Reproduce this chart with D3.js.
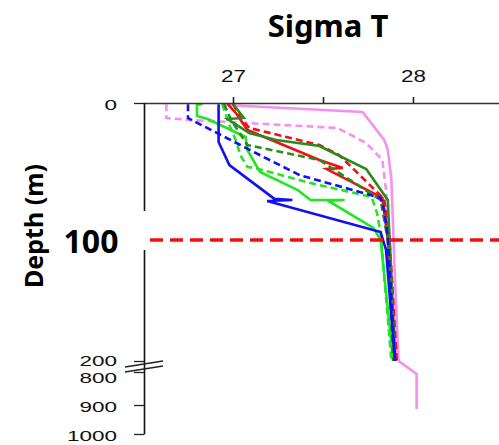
<!DOCTYPE html>
<html>
<head>
<meta charset="utf-8">
<script src="https://cdn.jsdelivr.net/npm/d3@7"></script>
<style>
  body { margin: 0; background: #fff; }
  svg { display: block; }
</style>
</head>
<body>
<svg id="chart" width="499" height="445"></svg>
<script>
// Sigma-T profiles: each point is [sigma-t, depth in m]
const stationA_solid  = [[26.96,1.5],[27.72,6.6],[27.84,27],[27.86,34],[27.88,56],[27.90,133],[27.92,200],[28.02,806],[28.02,914]];
const stationA_dashed = [[26.63,1],[26.63,11],[26.76,12.4],[27.58,18.2],[27.74,29.2],[27.83,41.6],[27.85,63.5],[27.87,100],[27.91,200]];
const stationB_solid  = [[26.83,0.7],[26.80,1.5],[26.80,9.5],[26.86,11.7],[27.07,24.8],[27.08,34.3],[27.15,50.4],[27.36,63.5],[27.43,70.8],[27.62,70.8],[27.53,71.5],[27.78,91.2],[27.82,100],[27.89,200]];
const stationB_dashed = [[26.94,0.7],[26.98,16.1],[27.02,28.5],[27.04,38],[27.08,46.7],[27.12,47.4],[27.43,58.4],[27.77,68.6],[27.80,80.3],[27.82,94.9],[27.88,200]];
const stationC_solid  = [[26.97,0.7],[27.02,8],[27.08,19.7],[27.28,30.7],[27.48,41.6],[27.61,47.4],[27.52,48.2],[27.83,69.3],[27.86,100],[27.90,200]];
const stationC_dashed = [[27.00,0.7],[27.04,10.2],[27.09,18.2],[27.48,30.7],[27.59,38],[27.84,70.1],[27.87,100],[27.91,200]];
const stationD_solid  = [[27.00,0.7],[27.06,10.9],[26.97,11.7],[27.09,21.9],[27.24,27],[27.48,31.4],[27.74,48.2],[27.86,70.8],[27.87,100],[27.90,200]];
const stationD_dashed = [[26.95,0.7],[26.99,12.4],[27.08,30.7],[27.48,41.6],[27.82,70.8],[27.86,100],[27.89,200]];
const stationE_solid  = [[26.92,1],[26.92,28.5],[26.98,45.3],[27.23,70],[27.33,70.8],[27.19,71.5],[27.82,94.2],[27.85,108],[27.90,200]];
const stationE_dashed = [[26.75,1],[26.75,11],[27.17,39.4],[27.37,52.6],[27.82,69.3],[27.84,78],[27.86,97.8],[27.90,200]];

const sigmaTicks = [27, 27.5, 28];
const sigmaLabels = ["27", "", "28"];
const depthTicks = [0, 200, 800, 900, 1000];
const depthLabels = ["0", "200", "800", "900", "1000"];
const referenceDepth = 100;

// drawing order and appearance
const profiles = [
  { data: stationA_solid,  color: "#f490f2", dash: null },
  { data: stationA_dashed, color: "#f490f2", dash: "7,4" },
  { data: stationB_dashed, color: "#22e622", dash: "7,4" },
  { data: stationB_solid,  color: "#22e622", dash: null },
  { data: stationC_dashed, color: "#ee1111", dash: "7,4" },
  { data: stationC_solid,  color: "#ee1111", dash: null },
  { data: stationD_dashed, color: "#2a8a1e", dash: "7,4" },
  { data: stationD_solid,  color: "#2a8a1e", dash: null },
  { data: stationE_dashed, color: "#1010f0", dash: "7,4" },
  { data: stationE_solid,  color: "#1010f0", dash: null }
];

const svg = d3.select("#chart");

const x = d3.scaleLinear().domain([26.5, 28.5]).range([143, 503]);
// broken depth axis: 0-200 m stretched, 800-1000 m compressed
const y = d3.scaleLinear()
  .domain([0, 100, 200, 800, 900, 1000])
  .range([103, 240, 361, 372, 405, 434]);

// title
svg.append("text")
  .attr("x", 328).attr("y", 37)
  .attr("text-anchor", "middle")
  .style("font-family", "'Noto Sans', sans-serif")
  .style("font-weight", "bold")
  .style("font-size", "31px")
  .text("Sigma T");

// y axis title
svg.append("text")
  .attr("transform", "translate(43,226) rotate(-90)")
  .attr("text-anchor", "middle")
  .style("font-family", "'Noto Sans', sans-serif")
  .style("font-weight", "bold")
  .style("font-size", "25px")
  .text("Depth (m)");

// profiles
const line = d3.line().x(d => x(d[0])).y(d => y(d[1]));
svg.append("g").selectAll("path")
  .data(profiles)
  .join("path")
  .attr("d", d => line(d.data))
  .attr("fill", "none")
  .attr("stroke", d => d.color)
  .attr("stroke-width", 2.6)
  .attr("stroke-linejoin", "miter")
  .attr("stroke-dasharray", d => d.dash);

// top axis
const xAxis = d3.axisTop(x)
  .tickValues(sigmaTicks)
  .tickSizeInner(6).tickSizeOuter(0)
  .tickFormat((d, i) => sigmaLabels[i]);
const gx = svg.append("g").attr("transform", `translate(0,${y(0)})`).call(xAxis);
gx.select(".domain").attr("stroke", "#333").attr("stroke-width", 1.6);
gx.selectAll(".tick line").attr("stroke", "#222").attr("stroke-width", 1.6);
gx.selectAll(".tick text")
  .attr("y", -21).attr("dy", 0)
  .attr("transform", "scale(1.4,1)")
  .style("font-family", "'Liberation Sans', Arial, sans-serif")
  .style("font-size", "16px")
  .attr("fill", "#111");

// left axis
const yAxis = d3.axisLeft(y)
  .tickValues(depthTicks)
  .tickSizeInner(10).tickSizeOuter(0)
  .tickFormat((d, i) => depthLabels[i]);
const gy = svg.append("g").attr("transform", "translate(144,0)").call(yAxis);
gy.select(".domain").attr("stroke", "#111").attr("stroke-width", 1.6);
gy.selectAll(".tick line").attr("stroke", "#222").attr("stroke-width", 1.3);
gy.selectAll(".tick text")
  .attr("x", -27 / 1.5)
  .attr("dy", d => d === 800 ? 10 : (d === 200 ? 4 : 6))
  .attr("transform", "scale(1.5,1)")
  .style("font-family", "'Liberation Sans', Arial, sans-serif")
  .style("font-size", "15px")
  .attr("fill", "#111");

// axis break marks
const breakY = (y(200) + y(800)) / 2;
[-2.5, 2.5].forEach(off => {
  svg.append("line")
    .attr("x1", 125).attr("y1", breakY + off + 3)
    .attr("x2", 163).attr("y2", breakY + off - 3)
    .attr("stroke", "#222").attr("stroke-width", 1.3);
});

// reference depth line with its label
svg.append("line")
  .attr("x1", 150).attr("x2", 499)
  .attr("y1", y(referenceDepth)).attr("y2", y(referenceDepth))
  .attr("stroke", "#f01010")
  .attr("stroke-width", 3.5)
  .attr("stroke-dasharray", "13,7");

svg.append("rect")
  .attr("x", 56).attr("y", y(referenceDepth) - 29)
  .attr("width", 90).attr("height", 39)
  .attr("fill", "#fff");
svg.append("text")
  .attr("x", 91).attr("y", y(referenceDepth) + 13)
  .attr("text-anchor", "middle")
  .style("font-family", "'Noto Sans', sans-serif")
  .style("font-weight", "bold")
  .style("font-size", "32px")
  .text(String(referenceDepth));
</script>
</body>
</html>
